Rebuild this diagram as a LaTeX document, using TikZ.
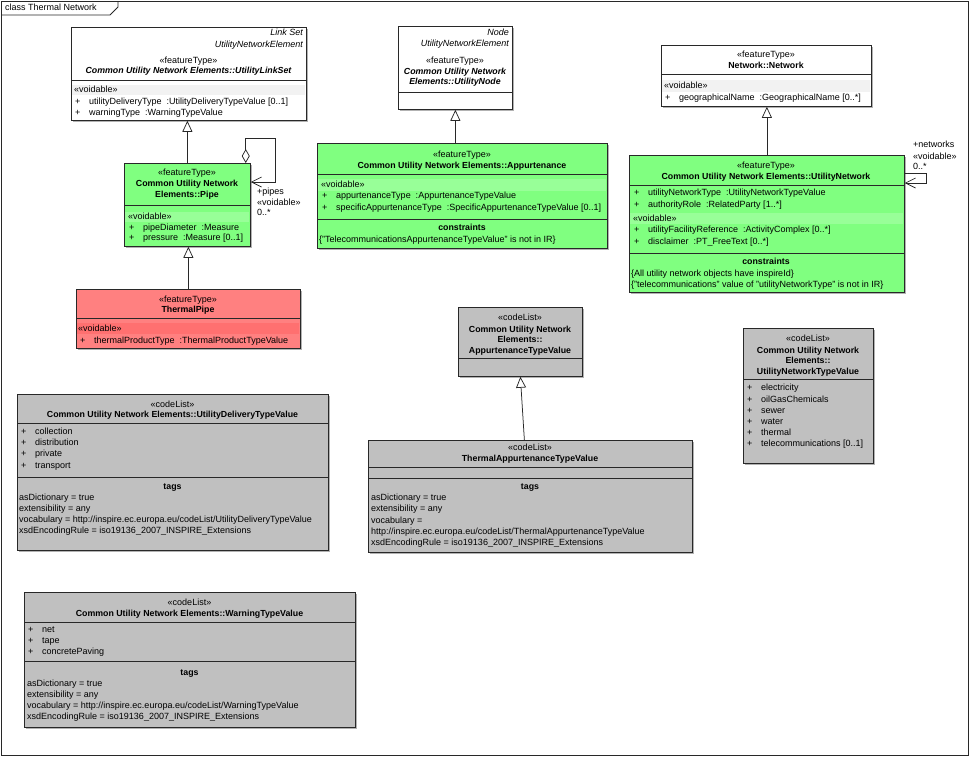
\documentclass[tikz,border=0pt]{standalone}
\usepackage{fontspec}
\setmainfont{Liberation Sans}
\usetikzlibrary{arrows.meta,shadows}

\definecolor{umlline}{RGB}{40,40,40}
\definecolor{umlgreen}{RGB}{128,255,128}
\definecolor{umlgreenband}{RGB}{152,255,152}
\definecolor{umlred}{RGB}{255,128,128}
\definecolor{umlredband}{RGB}{255,112,112}
\definecolor{umlgray}{RGB}{192,192,192}

\newcommand{\umlsize}{\fontsize{9}{10.8}\selectfont}
\newcommand{\umlbold}{\fontsize{8.8}{10.6}\selectfont\bfseries}
\newcommand{\attr}[1]{\makebox[14pt][l]{+}#1}

\begin{document}
\begin{tikzpicture}[x=1pt,y=-1pt,
  every node/.style={font=\umlsize, inner sep=0pt},
  classbox/.style={draw=umlline, line width=0.75pt, anchor=north west,
    drop shadow={shadow xshift=2pt, shadow yshift=-2pt, fill=black!30, opacity=1}},
  sep/.style={draw=umlline, line width=0.75pt},
  lft/.style={anchor=mid west},
  rgt/.style={anchor=mid east, font=\umlsize\itshape},
  ctr/.style={anchor=mid},
  cname/.style={anchor=mid, font=\umlbold},
  aname/.style={anchor=mid, font=\umlbold\itshape},
  gen/.style={draw=umlline, line width=0.75pt,
    -{Triangle[open, length=11pt, width=10pt, fill=white]}},
  assoc/.style={draw=umlline, line width=0.75pt,
    -{Straight Barb[length=10pt, width=10pt]}},
  aggr/.style={assoc,
    {Diamond[open, length=14pt, width=8pt, fill=white]}-{Straight Barb[length=10pt, width=10pt]}}]
  \useasboundingbox (0,0) rectangle (972,756);

  % frame
  \draw[sep] (1,1) rectangle (968,755);
  \draw[sep] (1,15) -- (110,15) -- (118,7) -- (118,1);
  \node[lft] (frametitle) at (5,8) {class Thermal Network};

  % boxes
  \node[classbox, fill=white, minimum width=235, minimum height=93] (linkset) at (71,27) {};
  \node[classbox, fill=umlgreen, minimum width=126, minimum height=83] (pipe) at (124,163) {};
  \node[classbox, fill=umlred, minimum width=224, minimum height=59] (thermalpipe) at (76,289) {};
  \node[classbox, fill=white, minimum width=114, minimum height=83] (utilnode) at (398,26) {};
  \node[classbox, fill=umlgreen, minimum width=290, minimum height=105] (appurt) at (317,143) {};
  \node[classbox, fill=white, minimum width=210, minimum height=61] (network) at (661,45) {};
  \node[classbox, fill=umlgreen, minimum width=275, minimum height=137] (utilnet) at (629,155) {};
  \node[classbox, fill=umlgray, minimum width=124, minimum height=69] (appurttype) at (458,307) {};
  \node[classbox, fill=umlgray, minimum width=311, minimum height=156] (delivtype) at (17,394) {};
  \node[classbox, fill=umlgray, minimum width=324, minimum height=112] (thermappurt) at (368,440) {};
  \node[classbox, fill=umlgray, minimum width=130, minimum height=135] (nettype) at (743,328) {};
  \node[classbox, fill=umlgray, minimum width=331, minimum height=135] (warntype) at (24,592) {};

  % voidable bands
  \fill[black!5] (72,85) rectangle (305,95);
  \fill[umlgreenband] (125,212) rectangle (249,222);
  \fill[umlredband] (77,323) rectangle (299,334);
  \fill[umlgreenband] (318,179) rectangle (606,191);
  \fill[black!5] (662,80) rectangle (870,92);
  \fill[umlgreenband] (630,213) rectangle (903,224);

  % compartments
  \draw[sep] (71,80) -- (306,80);
  \draw[sep] (124,205) -- (250,205);
  \draw[sep] (76,318) -- (300,318);
  \draw[sep] (398,92) -- (512,92);
  \draw[sep] (317,174) -- (607,174);
  \draw[sep] (317,219) -- (607,219);
  \draw[sep] (661,74) -- (871,74);
  \draw[sep] (629,185) -- (904,185);
  \draw[sep] (629,253) -- (904,253);
  \draw[sep] (458,358) -- (582,358);
  \draw[sep] (17,423) -- (328,423);
  \draw[sep] (17,477) -- (328,477);
  \draw[sep] (368,467) -- (692,467);
  \draw[sep] (368,478) -- (692,478);
  \draw[sep] (743,379) -- (873,379);
  \draw[sep] (24,622) -- (355,622);
  \draw[sep] (24,661) -- (355,661);

  % connectors
  \draw[gen] (pipe.north) -- (pipe.north |- linkset.south);
  \draw[gen] (thermalpipe.north) -- (thermalpipe.north |- pipe.south);
  \draw[gen] (utilnode.south |- appurt.north) -- (utilnode.south);
  \draw[gen] (utilnet.north) -- (utilnet.north |- network.south);
  \draw[gen] ([xshift=-6pt]thermappurt.north) -- (appurttype.south);
  \draw[aggr] ([xshift=-5pt]pipe.north east) -- ++(0,-25) -| ++(30,44)
    -- ([yshift=-19pt]pipe.north east);
  \draw[assoc] ([yshift=-18pt]utilnet.north east) -- ++(22,0)
    |- ([yshift=-28pt]utilnet.north east);
  \node[lft] (pipesrole) at (257,192) {+pipes};
  \node[lft] (pipesst) at (257,203) {«voidable»};
  \node[lft] (pipesmult) at (257,213) {0..*};
  \node[lft] (netsrole) at (913,145) {+networks};
  \node[lft] (netsst) at (913,157) {«voidable»};
  \node[lft] (netsmult) at (913,167) {0..*};

  % UtilityLinkSet
  \node[rgt] (ls1) at (303,33) {Link Set};
  \node[rgt] (ls2) at (303,45) {UtilityNetworkElement};
  \node[ctr] (ls3) at (188.5,61) {«featureType»};
  \node[aname] (ls4) at (188.5,71) {Common Utility Network Elements::UtilityLinkSet};
  \node[lft] (ls5) at (74,90) {«voidable»};
  \node[lft] (ls6) at (75,102) {\attr{utilityDeliveryType~ :UtilityDeliveryTypeValue [0..1]}};
  \node[lft] (ls7) at (75,113) {\attr{warningType~ :WarningTypeValue}};

  % Pipe
  \node[ctr] (pi1) at (187,173) {«featureType»};
  \node[cname] (pi2) at (187,184) {Common Utility Network};
  \node[cname] (pi3) at (187,195) {Elements::Pipe};
  \node[lft] (pi4) at (128,217) {«voidable»};
  \node[lft] (pi5) at (129,228) {\attr{pipeDiameter~ :Measure}};
  \node[lft] (pi6) at (129,238) {\attr{pressure~ :Measure [0..1]}};

  % ThermalPipe
  \node[ctr] (tp1) at (188,300) {«featureType»};
  \node[cname] (tp2) at (188,310) {ThermalPipe};
  \node[lft] (tp3) at (78,329) {«voidable»};
  \node[lft] (tp4) at (80,341) {\attr{thermalProductType~ :ThermalProductTypeValue}};

  % UtilityNode
  \node[rgt] (un1) at (509,33) {Node};
  \node[rgt] (un2) at (509,44) {UtilityNetworkElement};
  \node[ctr] (un3) at (455,61) {«featureType»};
  \node[aname] (un4) at (455,72) {Common Utility Network};
  \node[aname] (un5) at (455,82) {Elements::UtilityNode};

  % Appurtenance
  \node[ctr] (ap1) at (462,155) {«featureType»};
  \node[cname] (ap2) at (462,166) {Common Utility Network Elements::Appurtenance};
  \node[lft] (ap3) at (321,185) {«voidable»};
  \node[lft] (ap4) at (322,196) {\attr{appurtenanceType~ :AppurtenanceTypeValue}};
  \node[lft] (ap5) at (322,208) {\attr{specificAppurtenanceType~ :SpecificAppurtenanceTypeValue [0..1]}};
  \node[cname] (ap6) at (462,228) {constraints};
  \node[lft] (ap7) at (319,240) {\{"TelecommunicationsAppurtenanceTypeValue" is not in IR\}};

  % Network
  \node[ctr] (nw1) at (766,55) {«featureType»};
  \node[cname] (nw2) at (766,66) {Network::Network};
  \node[lft] (nw3) at (664,86) {«voidable»};
  \node[lft] (nw4) at (665,98) {\attr{geographicalName~ :GeographicalName [0..*]}};

  % UtilityNetwork
  \node[ctr] (ut1) at (766,166) {«featureType»};
  \node[cname] (ut2) at (766,177) {Common Utility Network Elements::UtilityNetwork};
  \node[lft] (ut3) at (634,193) {\attr{utilityNetworkType~ :UtilityNetworkTypeValue}};
  \node[lft] (ut4) at (634,205) {\attr{authorityRole~ :RelatedParty [1..*]}};
  \node[lft] (ut5) at (633,219) {«voidable»};
  \node[lft] (ut6) at (634,230) {\attr{utilityFacilityReference~ :ActivityComplex [0..*]}};
  \node[lft] (ut7) at (634,242) {\attr{disclaimer~ :PT\_FreeText [0..*]}};
  \node[cname] (ut8) at (766,262) {constraints};
  \node[lft] (ut9) at (631,274) {\{All utility network objects have inspireId\}};
  \node[lft] (ut10) at (631,285) {\{"telecommunications" value of "utilityNetworkType" is not in IR\}};

  % AppurtenanceTypeValue
  \node[ctr] (at1) at (520,318) {«codeList»};
  \node[cname] (at2) at (520,330) {Common Utility Network};
  \node[cname] (at3) at (520,340) {Elements::};
  \node[cname] (at4) at (520,351) {AppurtenanceTypeValue};

  % UtilityDeliveryTypeValue
  \node[ctr] (dt1) at (172.5,405) {«codeList»};
  \node[cname] (dt2) at (172.5,415) {Common Utility Network Elements::UtilityDeliveryTypeValue};
  \node[lft] (dt3) at (21,432) {\attr{collection}};
  \node[lft] (dt4) at (21,443) {\attr{distribution}};
  \node[lft] (dt5) at (21,454) {\attr{private}};
  \node[lft] (dt6) at (21,466) {\attr{transport}};
  \node[cname] (dt7) at (172.5,487) {tags};
  \node[lft] (dt8) at (19,498) {asDictionary = true};
  \node[lft] (dt9) at (19,509) {extensibility = any};
  \node[lft] (dt10) at (19,520) {vocabulary = http://inspire.ec.europa.eu/codeList/UtilityDeliveryTypeValue};
  \node[lft] (dt11) at (19,531) {xsdEncodingRule = iso19136\_2007\_INSPIRE\_Extensions};

  % ThermalAppurtenanceTypeValue
  \node[ctr] (ta1) at (530,448) {«codeList»};
  \node[cname] (ta2) at (530,459) {ThermalAppurtenanceTypeValue};
  \node[cname] (ta3) at (530,487) {tags};
  \node[lft] (ta4) at (371,498) {asDictionary = true};
  \node[lft] (ta5) at (371,509) {extensibility = any};
  \node[lft] (ta6) at (371,521) {vocabulary =};
  \node[lft] (ta7) at (371,532) {http://inspire.ec.europa.eu/codeList/ThermalAppurtenanceTypeValue};
  \node[lft] (ta8) at (371,543) {xsdEncodingRule = iso19136\_2007\_INSPIRE\_Extensions};

  % UtilityNetworkTypeValue
  \node[ctr] (nt1) at (808,339) {«codeList»};
  \node[cname] (nt2) at (808,351) {Common Utility Network};
  \node[cname] (nt3) at (808,361) {Elements::};
  \node[cname] (nt4) at (808,372) {UtilityNetworkTypeValue};
  \node[lft] (nt5) at (747,388) {\attr{electricity}};
  \node[lft] (nt6) at (747,400) {\attr{oilGasChemicals}};
  \node[lft] (nt7) at (747,411) {\attr{sewer}};
  \node[lft] (nt8) at (747,422) {\attr{water}};
  \node[lft] (nt9) at (747,433) {\attr{thermal}};
  \node[lft] (nt10) at (747,444) {\attr{telecommunications [0..1]}};

  % WarningTypeValue
  \node[ctr] (wt1) at (189.5,603) {«codeList»};
  \node[cname] (wt2) at (189.5,614) {Common Utility Network Elements::WarningTypeValue};
  \node[lft] (wt3) at (28,630) {\attr{net}};
  \node[lft] (wt4) at (28,641) {\attr{tape}};
  \node[lft] (wt5) at (28,652) {\attr{concretePaving}};
  \node[cname] (wt6) at (189.5,673) {tags};
  \node[lft] (wt7) at (27,684) {asDictionary = true};
  \node[lft] (wt8) at (27,695) {extensibility = any};
  \node[lft] (wt9) at (27,706) {vocabulary = http://inspire.ec.europa.eu/codeList/WarningTypeValue};
  \node[lft] (wt10) at (27,717) {xsdEncodingRule = iso19136\_2007\_INSPIRE\_Extensions};
\end{tikzpicture}
\end{document}
